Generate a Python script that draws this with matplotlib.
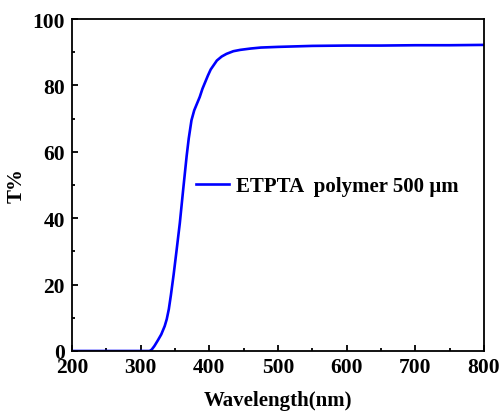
import numpy as np
import matplotlib
matplotlib.use("Agg")
import matplotlib.pyplot as plt
from matplotlib.ticker import MultipleLocator

# Transmittance spectrum of the ETPTA polymer film
wavelength = [200, 250, 300, 310, 313, 316, 320, 325, 330, 335, 338, 341, 344,
              348, 352, 357, 362, 367, 370, 374, 378, 382, 386, 390, 394, 398,
              402, 406, 411, 418, 425, 435, 445, 460, 475, 500, 550, 600, 650,
              700, 750, 800]
transmittance = [0, 0, 0, 0, 0, 0.4, 1.5, 3.2, 5.0, 7.5, 9.6, 12.6, 16.8,
                 23.0, 29.8, 38.5, 48.8, 58.8, 64.0, 69.5, 72.5, 74.5, 76.5,
                 79.0, 81.0, 83.0, 84.8, 86.0, 87.5, 88.7, 89.5, 90.3, 90.7,
                 91.1, 91.4, 91.6, 91.9, 92.0, 92.0, 92.1, 92.1, 92.2]
series_label = "ETPTA  polymer 500 \u00b5m"

x_ticks = [200, 300, 400, 500, 600, 700, 800]
y_ticks = [0, 20, 40, 60, 80, 100]

plt.rcParams["font.family"] = ["Liberation Serif", "DejaVu Serif"]
plt.rcParams["font.weight"] = "bold"

fig = plt.figure(figsize=(5.01, 4.14), dpi=100)
ax = fig.add_axes([72 / 501, 1 - 352 / 414, 412 / 501, 332 / 414])

ax.plot(wavelength, transmittance, color="#0000ff", lw=1.9, label=series_label,
        solid_joinstyle="round")

ax.set_xlim(200, 800)
ax.set_ylim(0, 100)
ax.set_xticks(x_ticks)
ax.set_yticks(y_ticks)
ax.xaxis.set_minor_locator(MultipleLocator(50))
ax.yaxis.set_minor_locator(MultipleLocator(10))

for s in ax.spines.values():
    s.set_linewidth(1.3)

ax.tick_params(which="both", direction="in", top=False, right=False, width=1.3)
ax.tick_params(which="major", length=4.5, labelsize=15.5)
ax.tick_params(which="minor", length=2.5)
ax.tick_params(axis="x", pad=4)
ax.tick_params(axis="y", pad=5)
for lab in ax.get_xticklabels() + ax.get_yticklabels():
    lab.set_fontweight("bold")

ax.set_xlabel("Wavelength(nm)", fontsize=15, fontweight="bold")
ax.set_ylabel("T%", fontsize=15, fontweight="bold")
ax.xaxis.set_label_coords(0.5, -0.118)
ax.yaxis.set_label_coords(-0.11, 0.5)

leg = ax.legend(loc="center left", bbox_to_anchor=(0.301, 0.497), frameon=False,
                borderpad=0, borderaxespad=0, handlelength=1.6, handletextpad=0.3,
                prop={"size": 15, "weight": "bold"})

fig.savefig("out.png", dpi=100)
